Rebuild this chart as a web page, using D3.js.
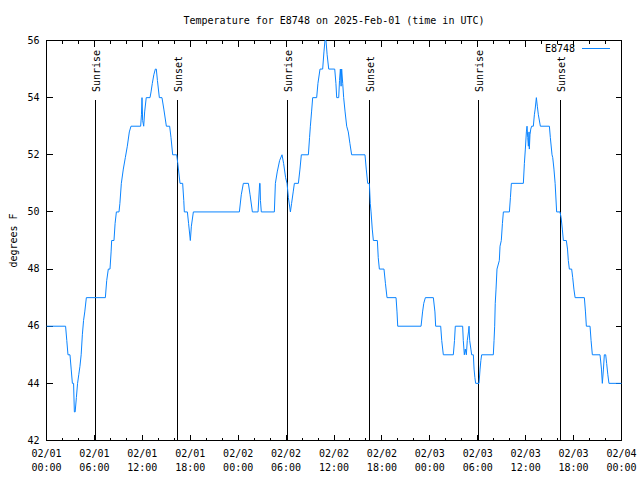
<!DOCTYPE html>
<html>
<head>
<meta charset="utf-8">
<script src="https://cdn.jsdelivr.net/npm/d3@7"></script>
<style>
  html, body { margin: 0; padding: 0; background: #fff; }
  text { font-family: "DejaVu Sans Mono", "Liberation Mono", monospace; font-size: 10px; fill: #000; }
</style>
</head>
<body>
<svg id="chart" width="640" height="480"></svg>
<script>
// ---- data (hours since 2025-02-01 00:00 UTC, temperature in °F) ----
const hours = [0,2.39,2.54,2.69,2.94,3.09,3.24,3.39,3.49,3.59,3.74,3.89,4.04,4.19,4.34,4.49,4.64,4.79,4.99,
  7.37,7.54,7.74,7.95,8.09,8.16,8.45,8.59,8.75,9.08,9.19,9.37,9.62,9.87,10.12,10.37,10.58,
  11.79,11.89,11.96,12.04,12.17,12.29,12.49,12.96,13.09,13.25,13.44,13.63,13.75,13.89,14.13,14.46,14.69,15.01,
  15.42,15.59,15.80,16.30,16.44,16.72,17.05,17.19,17.26,17.64,17.79,18.01,18.14,18.39,
  24.15,24.39,24.65,25.28,25.49,25.78,26.49,26.69,26.74,26.79,26.90,28.53,28.66,28.89,29.19,29.49,29.69,29.94,
  30.12,30.29,30.54,30.69,30.89,31.04,31.54,31.74,31.91,32.79,32.94,33.04,33.19,33.33,33.83,33.99,34.25,34.58,
  34.74,34.87,35.00,35.14,35.34,36.09,36.24,36.34,36.59,36.69,36.80,36.89,36.96,37.09,37.21,37.39,37.59,37.79,
  37.99,38.21,39.88,40.04,40.22,40.43,40.54,40.64,40.79,40.93,41.43,41.54,41.68,42.26,42.44,42.64,43.77,43.89,
  43.98,46.90,47.09,47.24,47.44,48.44,48.64,48.73,49.36,49.49,49.69,50.94,51.09,51.19,52.11,52.19,52.32,52.44,
  52.57,52.69,52.84,52.91,52.99,53.14,53.24,53.45,53.54,53.64,53.74,54.16,54.29,54.39,54.49,55.95,56.04,56.12,
  56.19,56.29,56.41,56.70,56.79,56.95,57.09,57.21,57.96,58.09,58.21,59.71,59.84,59.96,60.09,60.17,60.26,60.34,
  60.42,60.46,60.54,60.64,60.75,60.96,61.09,61.19,61.34,61.46,61.59,61.84,62.97,63.09,63.30,63.39,63.54,63.69,
  63.88,64.30,64.44,64.59,64.72,65.09,65.24,65.34,65.47,65.76,65.89,66.04,66.19,67.35,67.49,67.60,68.06,68.19,
  68.35,69.31,69.49,69.60,69.74,69.85,70.02,70.14,70.29,70.43,72];
const temps = [46,46,45.5,45,45,44.5,44,44,43,43,43.5,44,44.3,44.6,45,45.7,46.2,46.5,47,
  47,47.6,48,48,48.6,49,49,49.6,50,50,50.3,51,51.5,51.9,52.3,52.8,53,
  53,53.4,54,53.2,53,53.5,54,54,54.2,54.5,54.8,55,55,54.6,54,54,53.6,53,
  53,52.6,52,52,51.7,51,51,50.4,50,50,49.6,49,49.5,50,
  50,50.6,51,51,50.6,50,50,51,51,50.4,50,50,51,51.4,51.8,52,51.7,51.2,
  51,50.5,50,50.3,50.7,51,51,51.5,52,52,52.6,53,53.5,54,54,54.5,55,55,
  55.6,56,56,55.5,55,55,54.5,54,54,54.6,55,54.4,55,54.5,54,53.5,53,52.8,
  52.4,52,52,51.5,51,51,50.3,50,49.4,49,49,48.4,48,48,47.5,47,47,46.5,
  46,46,46.5,46.8,47,47,46.5,46,46,45.5,45,45,45.5,46,46,45.5,45,45.2,
  45,45.5,45.8,46,45.5,45.2,45,45,44.5,44.2,44,44,44.5,44.8,45,45,45.5,46,
  46.8,47.3,48,48.3,48.8,49,49.6,50,50,50.5,51,51,51.7,52.2,52.8,53,52.6,52.3,
  52.8,52.2,52.7,52.9,53,53,53.4,53.6,54,53.7,53.4,53,53,52.6,52,51.9,51.5,51,
  50,50,49.8,49.4,49,49,48.7,48.3,48,48,47.7,47.3,47,47,46.5,46,46,45.5,
  45,45,44.5,44,44.5,45,45,44.7,44.3,44,44];

const majorTickHours = [0,6,12,18,24,30,36,42,48,54,60,66,72];
const minorTickHours = [2,4,8,10,14,16,20,22,26,28,32,34,38,40,44,46,50,52,56,58,62,64,68,70];
const dateLabels = ["02/01","02/01","02/01","02/01","02/02","02/02","02/02","02/02","02/03","02/03","02/03","02/03","02/04"];
const timeLabels = ["00:00","06:00","12:00","18:00","00:00","06:00","12:00","18:00","00:00","06:00","12:00","18:00","00:00"];
const yTickValues = [42,44,46,48,50,52,54,56];
const sunHours = [6.1, 16.33, 30.08, 40.4, 54.03, 64.3];
const sunLabels = ["Sunrise","Sunset","Sunrise","Sunset","Sunrise","Sunset"];
const seriesName = "E8748";
const titleText = "Temperature for E8748 on 2025-Feb-01 (time in UTC)";
const yLabelText = "degrees F";

// ---- drawing ----
const svg = d3.select("#chart");
svg.append("rect").attr("width", 640).attr("height", 480).attr("fill", "#fff");

const L = 46.5, R = 621.5, T = 40.5, B = 440.5;
const x = d3.scaleLinear().domain([0, 72]).range([L, R]);
const y = d3.scaleLinear().domain([42, 56]).range([B, T]);

function styleAxis(g) {
  g.select(".domain").remove();
  g.selectAll(".tick line").attr("stroke", "#000").attr("shape-rendering", "crispEdges");
}

// x axes (bottom & top), major and minor ticks
svg.append("g").attr("transform", `translate(0,${B})`)
  .call(d3.axisBottom(x).tickValues(majorTickHours).tickSize(-6).tickFormat("").offset(0)).call(styleAxis);
svg.append("g").attr("transform", `translate(0,${B})`)
  .call(d3.axisBottom(x).tickValues(minorTickHours).tickSize(-3).tickFormat("").offset(0)).call(styleAxis);
svg.append("g").attr("transform", `translate(0,${T})`)
  .call(d3.axisTop(x).tickValues(majorTickHours).tickSize(-6).tickFormat("").offset(0)).call(styleAxis);
svg.append("g").attr("transform", `translate(0,${T})`)
  .call(d3.axisTop(x).tickValues(minorTickHours).tickSize(-3).tickFormat("").offset(0)).call(styleAxis);

// y axes
const yLeft = svg.append("g").attr("transform", `translate(${L},0)`)
  .call(d3.axisLeft(y).tickValues(yTickValues).tickSize(-6).tickPadding(7).offset(0));
yLeft.call(styleAxis);
yLeft.selectAll(".tick text").attr("font-family", null).attr("font-size", null).attr("fill", "#000");
svg.append("g").attr("transform", `translate(${R},0)`)
  .call(d3.axisRight(y).tickValues(yTickValues).tickSize(-6).tickFormat("").offset(0)).call(styleAxis);

// x tick labels (two lines)
const xl = svg.append("g");
majorTickHours.forEach((h, i) => {
  const t = xl.append("text").attr("text-anchor", "middle");
  t.append("tspan").attr("x", x(h)).attr("y", 457).text(dateLabels[i]);
  t.append("tspan").attr("x", x(h)).attr("y", 471).text(timeLabels[i]);
});

// frame
svg.append("rect").attr("x", L).attr("y", T).attr("width", R - L).attr("height", B - T)
  .attr("fill", "none").attr("stroke", "#000").attr("shape-rendering", "crispEdges");

// sunrise / sunset markers
sunHours.forEach((h, i) => {
  const sx = Math.round(x(h)) + 0.5;
  svg.append("line").attr("x1", sx).attr("x2", sx).attr("y1", 100).attr("y2", B)
    .attr("stroke", "#000").attr("shape-rendering", "crispEdges");
  svg.append("text").attr("transform", `translate(${sx + 1},92) rotate(-90)`)
    .attr("text-anchor", "start").attr("dy", "0.35em").text(sunLabels[i]);
});

// data line
const pts = hours.map((h, i) => [h, temps[i]]);
svg.append("path").datum(pts)
  .attr("fill", "none").attr("stroke", "#0a84ff").attr("stroke-width", 1)
  .attr("d", d3.line().x(d => x(d[0])).y(d => y(d[1])));

// legend
svg.append("text").attr("x", 575).attr("y", 52).attr("text-anchor", "end").text(seriesName);
svg.append("line").attr("x1", 582).attr("x2", 610).attr("y1", 48.5).attr("y2", 48.5)
  .attr("stroke", "#0a84ff").attr("shape-rendering", "crispEdges");

// title & y label
svg.append("text").attr("x", (L + R) / 2).attr("y", 24).attr("text-anchor", "middle").text(titleText);
svg.append("text").attr("transform", `translate(17,${(T + B) / 2}) rotate(-90)`)
  .attr("text-anchor", "middle").text(yLabelText);
</script>
</body>
</html>
